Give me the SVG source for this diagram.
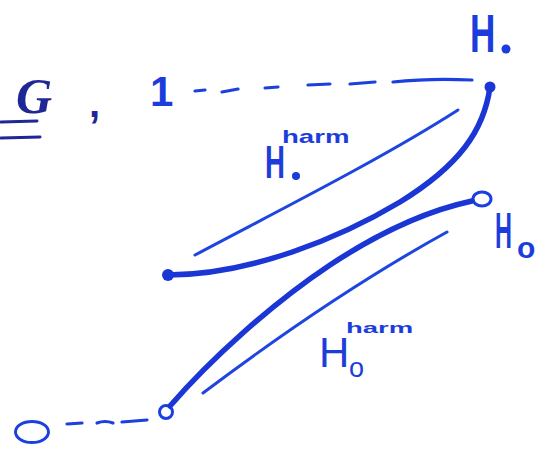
<svg xmlns="http://www.w3.org/2000/svg" width="549" height="461" viewBox="0 0 549 461">
<style>
.hand{font-family:"Liberation Sans","DejaVu Sans",sans-serif;fill:#1c3ddc}
.thick{fill:none;stroke:#1a36d4;stroke-width:5.5;stroke-linecap:round}
.thin{fill:none;stroke:#1f45e0;stroke-width:3;stroke-linecap:round}
.dash{fill:none;stroke:#1c40e0;stroke-width:3.2;stroke-linecap:round}
.navy{fill:none;stroke:#1f2796;stroke-width:3;stroke-linecap:round}
</style>
<rect width="549" height="461" fill="#ffffff"/>
<g id="label-G">
<text x="16" y="113" font-family="Liberation Serif,serif" font-style="italic" font-weight="bold" font-size="50" fill="#1f2796">G</text>
<path class="navy" d="M1,122 L37,121 M1,138 L40,137"/>
<text x="89" y="117" font-family="Liberation Sans,sans-serif" font-weight="bold" font-size="40" fill="#1f2796">,</text>
</g>
<g id="point-1">
<text class="hand" x="150" y="106" font-size="42" font-weight="bold">1</text>
</g>
<g id="label-Hdot">
<text class="hand" transform="translate(470,52) scale(0.65,1)" font-size="54" font-weight="bold">H</text>
<circle cx="506" cy="49" r="4.5" fill="#1c3ddc"/>
</g>
<g id="label-Hdot-harm">
<text class="hand" transform="translate(265,178) scale(0.6,1)" font-size="46" font-weight="bold">H</text>
<circle cx="296" cy="176" r="4" fill="#1c3ddc"/>
<text class="hand" transform="translate(282,143) scale(1.15,0.75)" font-size="24" font-weight="bold">harm</text>
</g>
<g id="label-H0">
<text class="hand" transform="translate(495,248) scale(0.47,1)" font-size="50" font-weight="bold">H</text>
<text class="hand" x="517" y="258" font-size="30" font-weight="bold">o</text>
</g>
<g id="label-H0-harm">
<text class="hand" x="319" y="367" font-size="42">H</text>
<text class="hand" x="349" y="377" font-size="27">o</text>
<text class="hand" transform="translate(346,333) scale(1.25,0.7)" font-size="22" font-weight="bold">harm</text>
</g>
<g id="point-top">
<circle cx="490" cy="87" r="5.5" fill="#1a36d4"/>
</g>
<g id="point-left">
<circle cx="168" cy="275" r="6" fill="#1a36d4"/>
</g>
<g id="point-H0">
<ellipse cx="482" cy="199" rx="9" ry="7" fill="none" stroke="#1c40e0" stroke-width="3"/>
</g>
<g id="point-bottom">
<circle cx="166" cy="412" r="6.5" fill="none" stroke="#1c40e0" stroke-width="3"/>
</g>
<g id="point-0">
<ellipse cx="32" cy="432" rx="16.5" ry="10.5" fill="none" stroke="#1c40e0" stroke-width="3"/>
</g>
<g id="connectors">
<path class="dash" d="M195,91 L205,90 M222,92 L238,89 M265,88 L278,87 M308,85 L330,84 M350,84 L375,82 M393,82 Q430,78 472,80"/>
<path class="thick" d="M490,87 C484,130 460,165 400,202 C340,238 250,275 168,275"/>
<path class="thin" d="M195,255 C270,215 380,160 458,110"/>
<path class="thick" stroke-width="4.5" d="M472,201 C430,210 380,232 330,265 C270,305 210,360 170,406"/>
<path class="thin" d="M447,232 C360,280 280,335 203,393"/>
<path class="dash" d="M67,424 L82,423 M97,423 Q105,420 113,423 M122,422 L147,420"/>
</g>
</svg>
